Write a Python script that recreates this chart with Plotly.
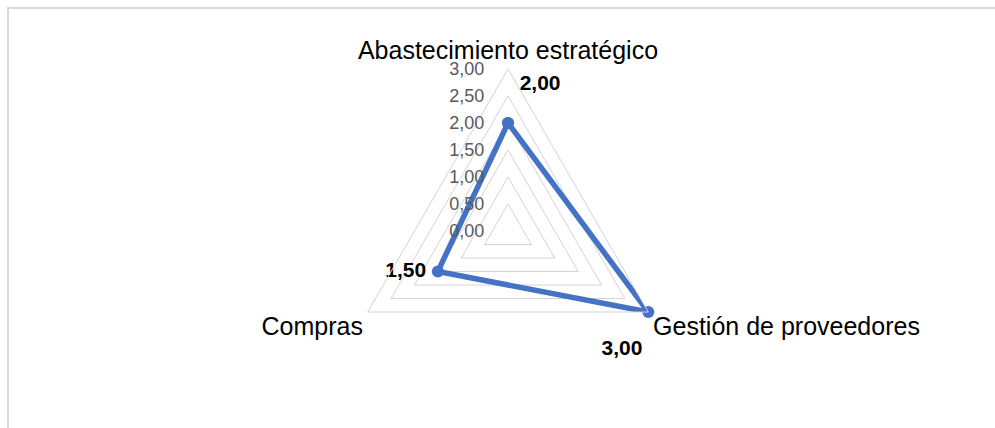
import plotly.graph_objects as go

categories = ["Abastecimiento estratégico", "Gestión de proveedores", "Compras"]
values = [2.00, 3.00, 1.50]
label_texts = ["\u00a0\u00a02,00<br> ", " <br>3,00\u00a0", "1,50\u00a0\u00a0"]
label_positions = ["top right", "bottom left", "middle left"]
radial_ticks = [0, 0.5, 1.0, 1.5, 2.0, 2.5, 3.0]

FONT = "Liberation Sans, Arial, sans-serif"
W, H = 995, 428
cx, cy, R = 508, 231, 162

fig = go.Figure()
fig.add_trace(go.Scatterpolar(
    r=values + values[:1],
    theta=categories + categories[:1],
    mode="lines+markers",
    line=dict(color="#4472C4", width=5.5),
    marker=dict(color="#4472C4", size=12),
    hoverinfo="skip",
    showlegend=False,
))
fig.add_trace(go.Scatterpolar(
    r=values,
    theta=categories,
    mode="text",
    text=label_texts,
    textposition=label_positions,
    textfont=dict(family=FONT, size=21, color="#000000", weight="bold"),
    hoverinfo="skip",
    showlegend=False,
))

fig.update_layout(
    width=W, height=H,
    margin=dict(l=0, r=0, t=0, b=0),
    paper_bgcolor="white",
    separators=", ",
    font=dict(family=FONT),
    polar=dict(
        domain=dict(x=[(cx - R) / W, (cx + R) / W],
                    y=[(H - cy - R) / H, (H - cy + R) / H]),
        gridshape="linear",
        bgcolor="white",
        radialaxis=dict(
            range=[0, 3],
            tickvals=radial_ticks,
            tickformat=".2f",
            angle=90,
            tickangle=90,
            side="counterclockwise",
            showline=False,
            ticks="outside",
            ticklen=17,
            tickcolor="rgba(0,0,0,0)",
            gridcolor="#d3d3d3",
            gridwidth=1,
            tickfont=dict(family=FONT, size=18, color="#595959"),
        ),
        angularaxis=dict(
            rotation=90,
            direction="clockwise",
            showgrid=False,
            showline=True,
            linecolor="#d3d3d3",
            linewidth=1,
            ticks="",
            tickfont=dict(family=FONT, size=25, color="#000000"),
        ),
    ),
    shapes=[dict(type="rect", xref="paper", yref="paper",
                 x0=8 / W, x1=1.05, y0=-0.05, y1=(H - 8) / H,
                 line=dict(color="#d9d9d9", width=2), fillcolor="rgba(0,0,0,0)",
                 layer="below")],
)

fig.write_html("out.html")
